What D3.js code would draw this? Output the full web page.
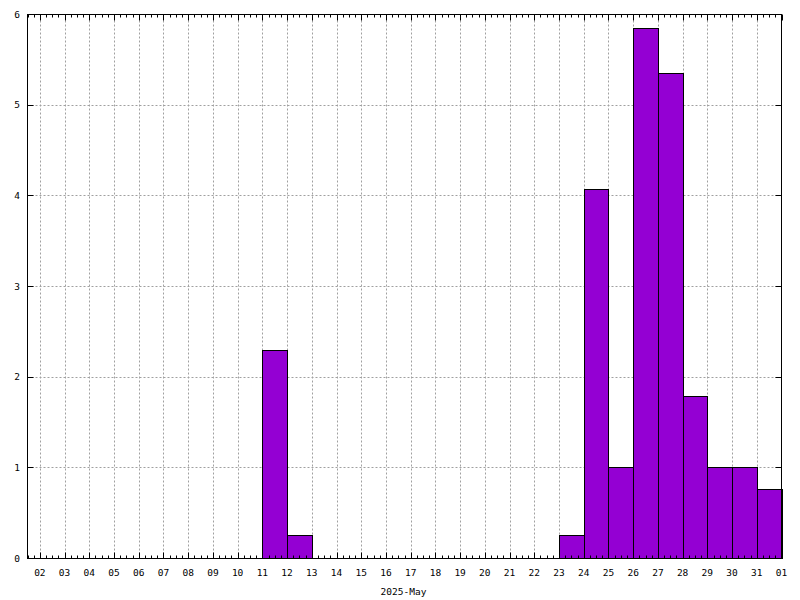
<!DOCTYPE html>
<html>
<head>
<meta charset="utf-8">
<script src="https://cdn.jsdelivr.net/npm/d3@7"></script>
<style>
  body { margin: 0; background: #fff; }
  svg { display: block; }
  text { font-family: "DejaVu Sans Mono", monospace; font-size: 9.5px; fill: #000; }
</style>
</head>
<body>
<svg id="chart"></svg>
<script>
// daily totals, one bar per day (bar covers the whole day)
const days   = ['2025-05-11', '2025-05-12', '2025-05-23', '2025-05-24', '2025-05-25', '2025-05-26',
                '2025-05-27', '2025-05-28', '2025-05-29', '2025-05-30', '2025-05-31'];
const values = [2.29, 0.25, 0.25, 4.07, 1.0, 5.85, 5.35, 1.79, 1.0, 1.0, 0.76];
const yTicks = [0, 1, 2, 3, 4, 5, 6];
const xStart = '2025-05-01T12:00:00Z';
const xEnd   = '2025-06-01T00:00:00Z';
const xTitle = '2025-May';

const width = 800, height = 600;
const margin = {top: 14, right: 19, bottom: 42, left: 27};

const svg = d3.select('#chart').attr('width', width).attr('height', height);

const parse = d3.utcParse('%Y-%m-%d');
const x = d3.scaleUtc()
  .domain([new Date(xStart), new Date(xEnd)])
  .range([margin.left + 0.5, width - margin.right + 0.5]);
const y = d3.scaleLinear()
  .domain([0, 6])
  .range([height - margin.bottom, margin.top]);

const px = v => Math.round(v) + 0.5;
const x0 = x.range()[0], x1 = x.range()[1];
const y0 = px(y(0)), y1 = px(y(6));

const dayTicks = d3.utcDay.range(new Date('2025-05-02T00:00:00Z'), new Date('2025-06-01T00:00:01Z'));
const minorTicks = d3.utcHour.every(6).range(new Date(xStart), new Date(xEnd))
  .filter(d => d.getUTCHours() !== 0);

// grid
const grid = svg.append('g')
  .attr('stroke', '#a0a0a0').attr('stroke-width', 1).attr('stroke-dasharray', '2,2');
grid.selectAll('line.vx')
  .data(dayTicks.slice(0, -1))
  .join('line')
    .attr('x1', d => px(x(d))).attr('x2', d => px(x(d)))
    .attr('y1', y0).attr('y2', y1);
grid.selectAll('line.hy')
  .data(yTicks.slice(1, -1))
  .join('line')
    .attr('x1', x0).attr('x2', x1)
    .attr('y1', d => px(y(d))).attr('y2', d => px(y(d)));

// bars
svg.append('g')
  .selectAll('rect')
  .data(days.map((d, i) => ({day: parse(d), v: values[i]})))
  .join('rect')
    .attr('fill', '#9400d3')
    .attr('stroke', '#000')
    .attr('stroke-width', 1)
    .attr('x', d => px(x(d.day)))
    .attr('y', d => px(y(d.v)))
    .attr('width', d => Math.round(x(d3.utcDay.offset(d.day, 1))) - Math.round(x(d.day)))
    .attr('height', d => Math.round(y(0)) - Math.round(y(d.v)));

// frame
svg.append('rect')
  .attr('x', x0).attr('y', y1)
  .attr('width', x1 - x0).attr('height', y0 - y1)
  .attr('fill', 'none').attr('stroke', '#000');

// x ticks, bottom and top (mirrored)
const tickG = svg.append('g').attr('stroke', '#000');
[[y0, -1], [y1, 1]].forEach(([base, dir]) => {
  tickG.append('g').selectAll('line')
    .data(dayTicks)
    .join('line')
      .attr('x1', d => px(x(d))).attr('x2', d => px(x(d)))
      .attr('y1', base).attr('y2', base + dir * 6);
  tickG.append('g').selectAll('line')
    .data(minorTicks)
    .join('line')
      .attr('x1', d => px(x(d))).attr('x2', d => px(x(d)))
      .attr('y1', base).attr('y2', base + dir * 3);
});
// y ticks, left and right
[[x0, 1], [x1, -1]].forEach(([base, dir]) => {
  tickG.append('g').selectAll('line')
    .data(yTicks)
    .join('line')
      .attr('x1', base).attr('x2', base + dir * 6)
      .attr('y1', d => px(y(d))).attr('y2', d => px(y(d)));
});

// labels
const fmt = d3.utcFormat('%d');
svg.append('g')
  .selectAll('text')
  .data(dayTicks)
  .join('text')
    .attr('x', d => x(d))
    .attr('y', 576)
    .attr('text-anchor', 'middle')
    .text(d => fmt(d));

svg.append('g')
  .selectAll('text')
  .data(yTicks)
  .join('text')
    .attr('x', 20)
    .attr('y', d => y(d) + 3.5)
    .attr('text-anchor', 'end')
    .text(d => d);

svg.append('text')
  .attr('x', (x0 + x1) / 2 - 1)
  .attr('y', 595)
  .attr('text-anchor', 'middle')
  .text(xTitle);
</script>
</body>
</html>
